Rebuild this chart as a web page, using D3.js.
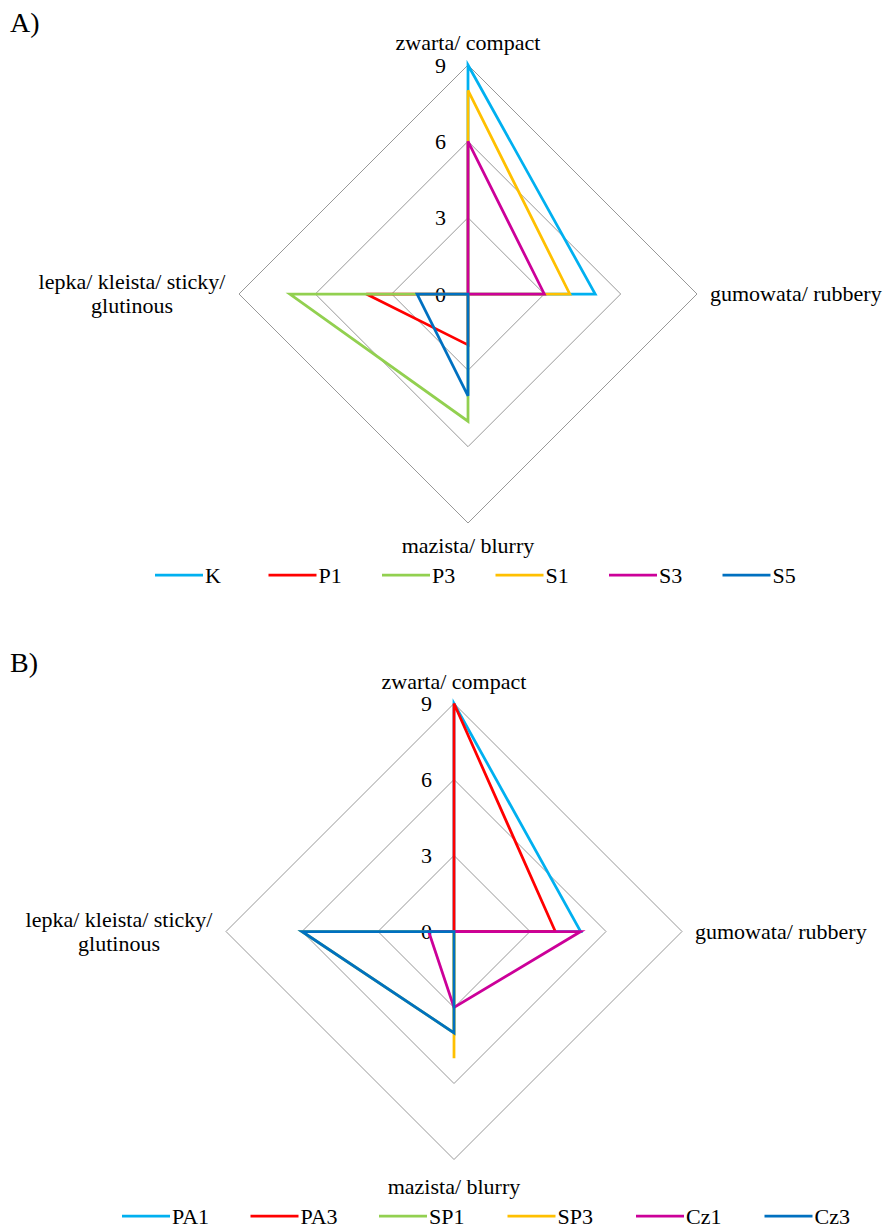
<!DOCTYPE html>
<html>
<head>
<meta charset="utf-8">
<script src="https://cdn.jsdelivr.net/npm/d3@7"></script>
<style>
  html, body { margin: 0; padding: 0; background: #fff; }
  svg { display: block; }
</style>
</head>
<body>
<svg id="chart" width="888" height="1231"></svg>
<script>
// ---- data ----
const categories = ["zwarta/ compact", "gumowata/ rubbery", "mazista/ blurry", "lepka/ kleista/ sticky/|glutinous"];
const tickValues = [0, 3, 6, 9];
const tickLabels = ["0", "3", "6", "9"];

const seriesNamesA = ["K", "P1", "P3", "S1", "S3", "S5"];
const K  = [9, 5, 0, 0];
const P1 = [0, 0, 2, 4];
const P3 = [0, 0, 5, 7];
const S1 = [8, 4, 0, 0];
const S3 = [6, 3, 0, 0];
const S5 = [0, 0, 4, 2];

const seriesNamesB = ["PA1", "PA3", "SP1", "SP3", "Cz1", "Cz3"];
const PA1 = [9, 5, 0, 0];
const PA3 = [9, 4, 0, 0];
const SP1 = [0, 0, 4, 6];
const SP3 = [0, 0, 5, 0];
const Cz1 = [0, 5, 3, 1];
const Cz3 = [0, 0, 4, 6];

const colors = ["#00B0F0", "#FF0000", "#92D050", "#FFC000", "#CC0099", "#0070C0"];

// ---- layout ----
const charts = [
  { title: "A)", names: seriesNamesA, values: [K, P1, P3, S1, S3, S5],
    cx: 468, cy: 294, R: 229, legendY: 575, legendX: 155, legendStep: 113.5, titleY: 32, bottomOff: 30 },
  { title: "B)", names: seriesNamesB, values: [PA1, PA3, SP1, SP3, Cz1, Cz3],
    cx: 454, cy: 931.5, R: 228, legendY: 1216, legendX: 122, legendStep: 128.5, titleY: 672, bottomOff: 34 }
];

const FONT = "'Liberation Serif', 'Times New Roman', Tinos, 'DejaVu Serif', serif";
const svg = d3.select("#chart");
const FS = 22;

function txt(g, x, y, s, size) {
  return g.append("text").attr("x", x).attr("y", y)
    .attr("font-family", FONT).attr("font-size", size || FS)
    .attr("fill", "#000").text(s);
}

charts.forEach(c => {
  const g = svg.append("g");
  const r = d3.scaleLinear().domain([0, 9]).range([0, c.R]);
  const angle = d3.scaleLinear().domain([0, categories.length]).range([0, 2 * Math.PI]);
  const pt = (v, i) => {
    const a = angle(i);
    return [c.cx + r(v) * Math.sin(a), c.cy - r(v) * Math.cos(a)];
  };
  const line = d3.line();

  // title
  txt(g, 10, c.titleY, c.title, 28);

  // grid
  tickValues.filter(v => v > 0).forEach(v => {
    const pts = categories.map((_, i) => pt(v, i));
    g.append("path").attr("d", line(pts) + "Z")
      .attr("fill", "none").attr("stroke", "#989898").attr("stroke-width", 1);
  });

  // tick labels
  tickValues.forEach((v, k) => {
    const [x, y] = pt(v, 0);
    txt(g, x - 22, y, tickLabels[k]).attr("dy", "0.35em").attr("text-anchor", "end");
  });

  // category labels
  const [tx, ty] = pt(9, 0);
  txt(g, tx, ty - 15, categories[0]).attr("text-anchor", "middle");
  const [rx, ry] = pt(9, 1);
  txt(g, rx + 13, ry + 7, categories[1]).attr("text-anchor", "start");
  const [bx, by] = pt(9, 2);
  txt(g, bx, by + c.bottomOff, categories[2]).attr("text-anchor", "middle");
  const [lx, ly] = pt(9, 3);
  categories[3].split("|").forEach((t, k) => {
    txt(g, lx - 107, ly - 5 + k * 24, t).attr("text-anchor", "middle");
  });

  // series
  c.values.forEach((vals, s) => {
    const pts = vals.map((v, i) => pt(v, i));
    g.append("path").attr("d", line(pts) + "Z")
      .attr("fill", "none").attr("stroke", colors[s]).attr("stroke-width", 2.75)
      .attr("stroke-linejoin", "miter");
  });

  // legend
  c.names.forEach((n, s) => {
    const x0 = c.legendX + s * c.legendStep;
    g.append("line").attr("x1", x0).attr("x2", x0 + 48)
      .attr("y1", c.legendY).attr("y2", c.legendY)
      .attr("stroke", colors[s]).attr("stroke-width", 2.75);
    txt(g, x0 + 50, c.legendY, n).attr("dy", "0.35em");
  });
});
</script>
</body>
</html>
